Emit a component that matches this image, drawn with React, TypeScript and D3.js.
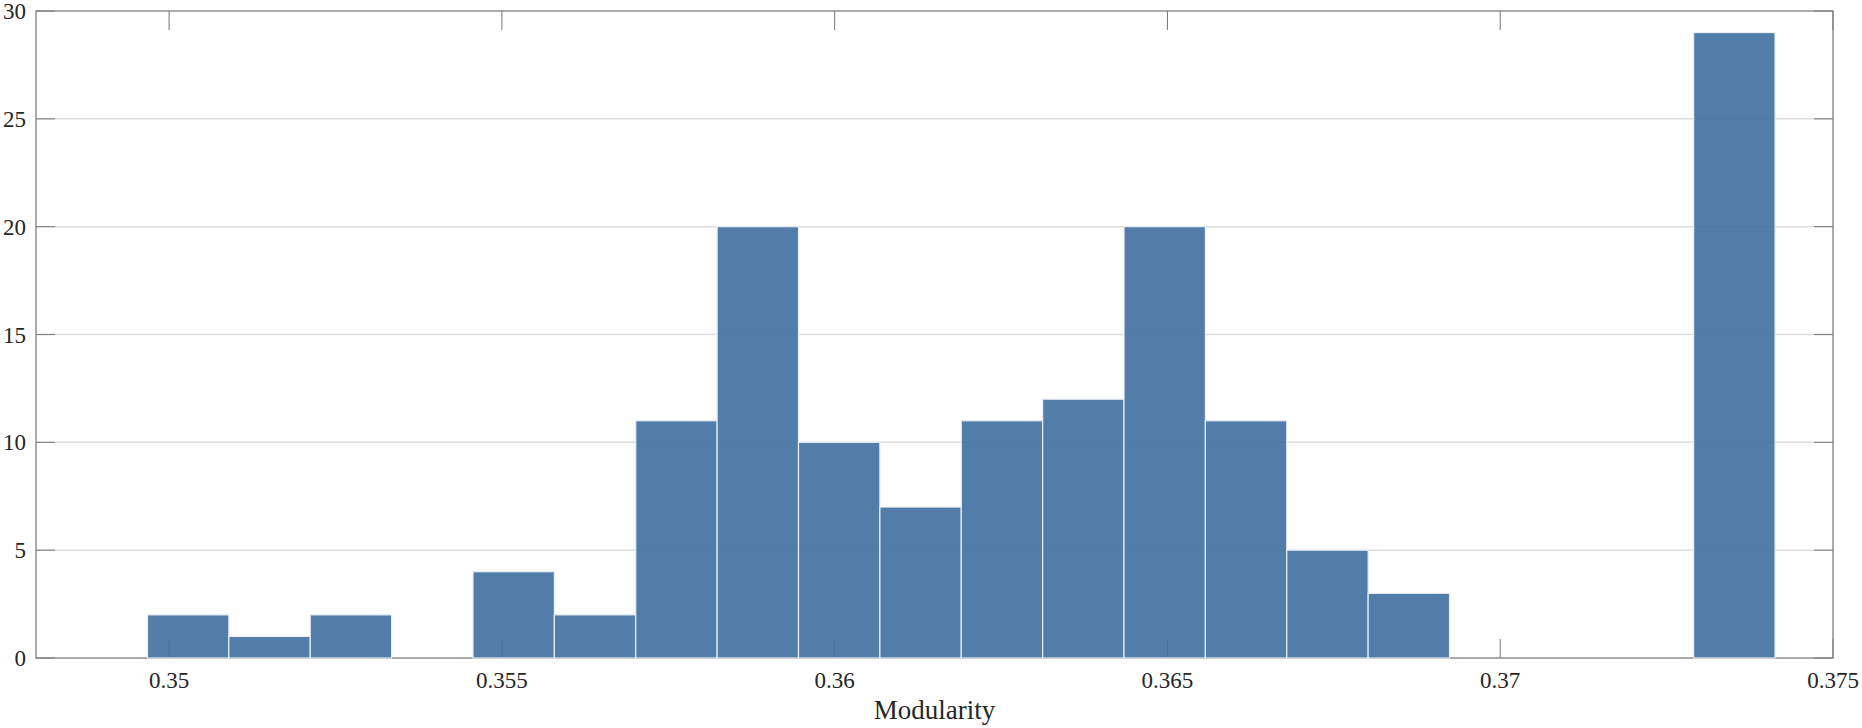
import React from "react";
import * as d3 from "d3";

const binStart = 0.349675;
const binWidth = 0.0012227;
const counts = [2, 1, 2, 0, 4, 2, 11, 20, 10, 7, 11, 12, 20, 11, 5, 3, 0, 0, 0, 29];
const xTicks = [0.35, 0.355, 0.36, 0.365, 0.37, 0.375];
const xTickLabels = ["0.35", "0.355", "0.36", "0.365", "0.37", "0.375"];
const yTicks = [0, 5, 10, 15, 20, 25, 30];
const xLabel = "Modularity";

const W = 1862;
const H = 728;
const L = 36, R = 1833, T = 11, B = 658;
const FONT = "'Liberation Serif', 'Times New Roman', serif";
const AXIS = "#808080";
const TICK = 19;

export default function App() {
  const x = d3.scaleLinear().domain([0.348, 0.375]).range([L, R]);
  const y = d3.scaleLinear().domain([0, 30]).range([B, T]);
  const bins = counts.map((c, i) => ({
    x0: binStart + i * binWidth,
    x1: binStart + (i + 1) * binWidth,
    c,
  }));
  return (
    <svg
      width={W}
      height={H}
      style={{ position: "absolute", left: 0, top: 0, background: "#fff" }}
    >
      <rect x={0} y={0} width={W} height={H} fill="#fff" />
      {/* grid */}
      {yTicks
        .filter((t) => t > 0 && t < 30)
        .map((t) => (
          <line key={"g" + t} x1={L} x2={R} y1={y(t)} y2={y(t)} stroke="#dedede" strokeWidth={1.5} />
        ))}
      {/* box */}
      <rect x={L} y={T} width={R - L} height={B - T} fill="none" stroke={AXIS} strokeWidth={1.3} />
      {/* ticks */}
      {xTicks.map((t) => (
        <g key={"xt" + t}>
          <line x1={x(t)} x2={x(t)} y1={B} y2={B - TICK} stroke={AXIS} strokeWidth={1.1} />
          <line x1={x(t)} x2={x(t)} y1={T} y2={T + TICK} stroke={AXIS} strokeWidth={1.1} />
        </g>
      ))}
      {yTicks.map((t) => (
        <g key={"yt" + t}>
          <line x1={L} x2={L + TICK} y1={y(t)} y2={y(t)} stroke={AXIS} strokeWidth={1.1} />
          <line x1={R} x2={R - TICK} y1={y(t)} y2={y(t)} stroke={AXIS} strokeWidth={1.1} />
        </g>
      ))}
      {/* bars */}
      {bins.map((b, i) => (
        <rect
          key={"b" + i}
          x={x(b.x0)}
          y={y(b.c)}
          width={x(b.x1) - x(b.x0)}
          height={y(0) - y(b.c)}
          fill="#3e6f9e"
          fillOpacity={0.9}
          stroke="#e9eef4"
          strokeWidth={1.2}
        />
      ))}
      {/* labels */}
      {xTicks.map((t, i) => (
        <text
          key={"xl" + t}
          x={x(t)}
          y={688}
          textAnchor="middle"
          fontFamily={FONT}
          fontSize={23}
          fill="#262626"
        >
          {xTickLabels[i]}
        </text>
      ))}
      {yTicks.map((t) => (
        <text
          key={"yl" + t}
          x={L - 10}
          y={y(t)}
          dy="0.35em"
          textAnchor="end"
          fontFamily={FONT}
          fontSize={23}
          fill="#262626"
        >
          {t}
        </text>
      ))}
      <text
        x={(L + R) / 2}
        y={719}
        textAnchor="middle"
        fontFamily={FONT}
        fontSize={27}
        fill="#262626"
      >
        {xLabel}
      </text>
    </svg>
  );
}
